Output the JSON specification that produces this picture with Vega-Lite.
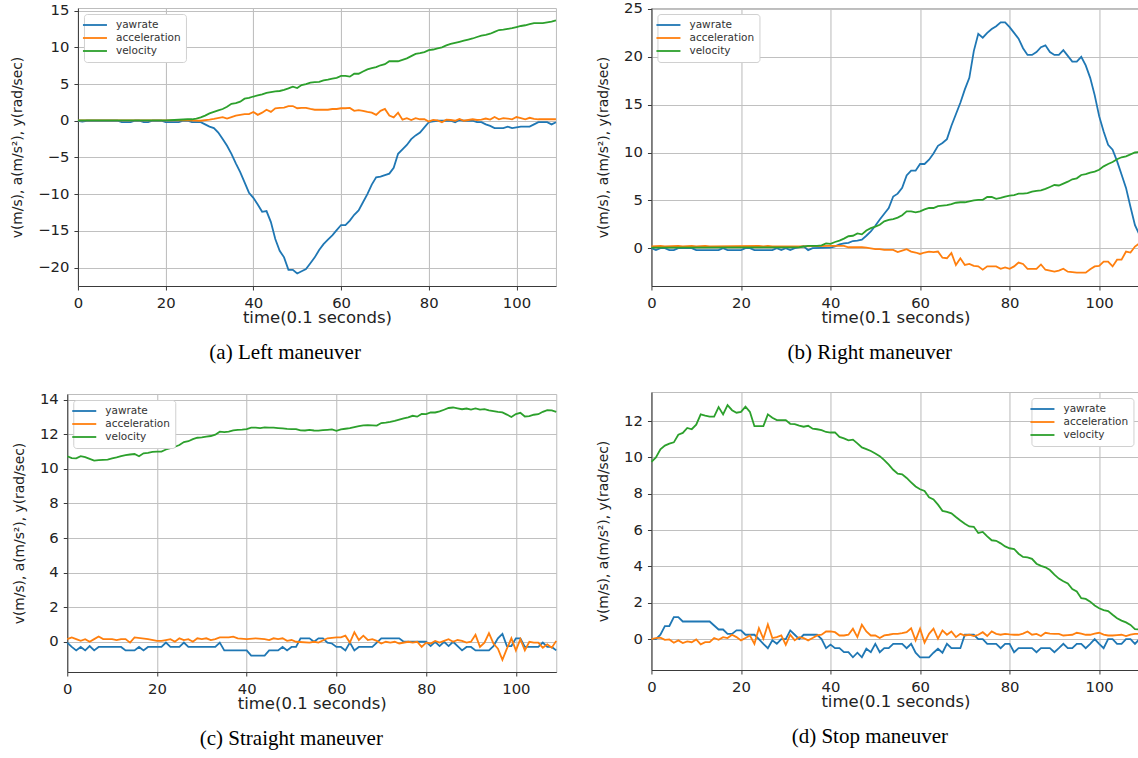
{
"$schema": "https://vega.github.io/schema/vega-lite/v6.json",
"background": "white",
"padding": {"left": 10, "top": 0, "right": 0, "bottom": 0},
"spacing": 25,
"config": {
 "font": "DejaVu Sans",
 "view": {"stroke": "#bdbdbd", "strokeWidth": 1},
 "axis": {"gridColor": "#c0c0c0", "gridWidth": 1.1, "domainColor": "#3a3a3a", "domainWidth": 1, "tickColor": "#3a3a3a", "tickSize": 4, "labelFont": "DejaVu Sans", "labelFontSize": 14.8, "labelColor": "#222", "titleFont": "DejaVu Sans", "titleFontWeight": "normal", "titleColor": "#222", "labelPadding": 5},
 "axisX": {"titleFontSize": 16.5, "titlePadding": 0, "labelFlush": false, "labelOverlap": false},
 "axisY": {"titleFontSize": 13.8, "titlePadding": 13},
 "legend": {"title": null, "offset": 6, "padding": 5, "fillColor": "white", "strokeColor": "#d0d0d0", "cornerRadius": 3, "symbolType": "M-2.4,0H2.4", "symbolSize": 100, "symbolStrokeWidth": 2, "labelFontSize": 10.5, "labelFont": "DejaVu Sans", "labelColor": "#333", "rowPadding": 1, "labelOffset": 15},
 "line": {"strokeWidth": 1.8},
 "title": {"font": "Liberation Serif", "fontSize": 21, "fontWeight": "normal", "color": "#000", "orient": "bottom", "anchor": "middle", "frame": "bounds", "offset": 16}
},
"resolve": {"scale": {"color": "independent"}, "legend": {"color": "independent"}},
"hconcat": [
 {"spacing": 27, "center": true, "resolve": {"scale": {"color": "independent"}, "legend": {"color": "independent"}},
  "vconcat": [
  {"width": 478, "height": 278, "title": "(a) Left maneuver",
   "encoding": {
    "x": {"field": "t", "type": "quantitative", "scale": {"domain": [0, 109], "nice": false, "zero": false}, "axis": {"values": [0, 20, 40, 60, 80, 100], "title": "time(0.1 seconds)"}},
    "y": {"field": "v", "type": "quantitative", "scale": {"domain": [-22.5, 15.35], "nice": false, "zero": false}, "axis": {"values": [-20, -15, -10, -5, 0, 5, 10, 15], "title": "v(m/s), a(m/s²), y(rad/sec)"}}
   },
   "layer": [
    {"data": {"name": "a_y"}, "mark": "line", "encoding": {"color": {"datum": "yawrate", "type": "nominal", "scale": {"domain": ["yawrate", "acceleration", "velocity"], "range": ["#1f77b4", "#ff7f0e", "#2ca02c"]}, "legend": {"orient": "top-left"}}}},
    {"data": {"name": "a_a"}, "mark": "line", "encoding": {"color": {"datum": "acceleration", "type": "nominal", "scale": {"domain": ["yawrate", "acceleration", "velocity"], "range": ["#1f77b4", "#ff7f0e", "#2ca02c"]}, "legend": {"orient": "top-left"}}}},
    {"data": {"name": "a_v"}, "mark": "line", "encoding": {"color": {"datum": "velocity", "type": "nominal", "scale": {"domain": ["yawrate", "acceleration", "velocity"], "range": ["#1f77b4", "#ff7f0e", "#2ca02c"]}, "legend": {"orient": "top-left"}}}}
   ]},
  {"width": 489, "height": 278, "title": "(c) Straight maneuver",
   "resolve": {"axis": {"y": "independent"}},
   "layer": [
    {"encoding": {
      "x": {"field": "t", "type": "quantitative", "scale": {"domain": [0, 109], "nice": false, "zero": false}, "axis": {"values": [0, 20, 40, 60, 80, 100], "title": "time(0.1 seconds)"}},
      "y": {"field": "v", "type": "quantitative", "scale": {"domain": [-1.75, 14.33], "nice": false, "zero": false}, "axis": {"values": [0, 2, 4, 6, 8, 10, 12, 14], "title": "v(m/s), a(m/s²), y(rad/sec)"}}
     },
     "layer": [
      {"data": {"name": "c_y"}, "mark": "line", "encoding": {"color": {"datum": "yawrate", "type": "nominal", "scale": {"domain": ["yawrate", "acceleration", "velocity"], "range": ["#1f77b4", "#ff7f0e", "#2ca02c"]}, "legend": {"orient": "top-left"}}}},
      {"data": {"name": "c_a"}, "mark": "line", "encoding": {"color": {"datum": "acceleration", "type": "nominal", "scale": {"domain": ["yawrate", "acceleration", "velocity"], "range": ["#1f77b4", "#ff7f0e", "#2ca02c"]}, "legend": {"orient": "top-left"}}}},
      {"data": {"name": "c_v"}, "mark": "line", "encoding": {"color": {"datum": "velocity", "type": "nominal", "scale": {"domain": ["yawrate", "acceleration", "velocity"], "range": ["#1f77b4", "#ff7f0e", "#2ca02c"]}, "legend": {"orient": "top-left"}}}}
     ]},
    {"data": {"name": "c_v"}, "mark": {"type": "line", "opacity": 0},
     "encoding": {
      "x": {"field": "t", "type": "quantitative", "scale": {"domain": [0, 109], "nice": false, "zero": false}},
      "y": {"field": "v", "type": "quantitative", "scale": {"domain": [-1.75, 14.33], "nice": false, "zero": false}, "axis": {"orient": "right", "labels": false, "ticks": false, "domain": false, "grid": false, "title": ".", "titleOpacity": 0, "titleFontSize": 6, "titlePadding": 8}}
     }}
   ]}
 ]},
 {"spacing": 27, "center": true, "resolve": {"scale": {"color": "independent"}, "legend": {"color": "independent"}},
  "vconcat": [
  {"width": 488, "height": 278, "title": "(b) Right maneuver",
   "encoding": {
    "x": {"field": "t", "type": "quantitative", "scale": {"domain": [0, 109], "nice": false, "zero": false}, "axis": {"values": [0, 20, 40, 60, 80, 100], "title": "time(0.1 seconds)"}},
    "y": {"field": "v", "type": "quantitative", "scale": {"domain": [-3.95, 25.1], "nice": false, "zero": false}, "axis": {"values": [0, 5, 10, 15, 20, 25], "title": "v(m/s), a(m/s²), y(rad/sec)"}}
   },
   "layer": [
    {"data": {"name": "b_y"}, "mark": "line", "encoding": {"color": {"datum": "yawrate", "type": "nominal", "scale": {"domain": ["yawrate", "acceleration", "velocity"], "range": ["#1f77b4", "#ff7f0e", "#2ca02c"]}, "legend": {"orient": "top-left"}}}},
    {"data": {"name": "b_a"}, "mark": "line", "encoding": {"color": {"datum": "acceleration", "type": "nominal", "scale": {"domain": ["yawrate", "acceleration", "velocity"], "range": ["#1f77b4", "#ff7f0e", "#2ca02c"]}, "legend": {"orient": "top-left"}}}},
    {"data": {"name": "b_v"}, "mark": "line", "encoding": {"color": {"datum": "velocity", "type": "nominal", "scale": {"domain": ["yawrate", "acceleration", "velocity"], "range": ["#1f77b4", "#ff7f0e", "#2ca02c"]}, "legend": {"orient": "top-left"}}}}
   ]},
  {"width": 488, "height": 278, "title": "(d) Stop maneuver",
   "encoding": {
    "x": {"field": "t", "type": "quantitative", "scale": {"domain": [0, 109], "nice": false, "zero": false}, "axis": {"values": [0, 20, 40, 60, 80, 100], "title": "time(0.1 seconds)"}},
    "y": {"field": "v", "type": "quantitative", "scale": {"domain": [-1.7, 13.6], "nice": false, "zero": false}, "axis": {"values": [0, 2, 4, 6, 8, 10, 12], "title": "v(m/s), a(m/s²), y(rad/sec)"}}
   },
   "layer": [
    {"data": {"name": "d_y"}, "mark": "line", "encoding": {"color": {"datum": "yawrate", "type": "nominal", "scale": {"domain": ["yawrate", "acceleration", "velocity"], "range": ["#1f77b4", "#ff7f0e", "#2ca02c"]}, "legend": {"orient": "top-right"}}}},
    {"data": {"name": "d_a"}, "mark": "line", "encoding": {"color": {"datum": "acceleration", "type": "nominal", "scale": {"domain": ["yawrate", "acceleration", "velocity"], "range": ["#1f77b4", "#ff7f0e", "#2ca02c"]}, "legend": {"orient": "top-right"}}}},
    {"data": {"name": "d_v"}, "mark": "line", "encoding": {"color": {"datum": "velocity", "type": "nominal", "scale": {"domain": ["yawrate", "acceleration", "velocity"], "range": ["#1f77b4", "#ff7f0e", "#2ca02c"]}, "legend": {"orient": "top-right"}}}}
   ]}
 ]}
],
"datasets": {
"a_y": [{"t":0,"v":0},{"t":1,"v":-0.1},{"t":2,"v":0},{"t":9,"v":0},{"t":10,"v":-0.2},{"t":12,"v":-0.2},{"t":13,"v":0},{"t":14,"v":0},{"t":15,"v":-0.2},{"t":16,"v":-0.2},{"t":17,"v":0},{"t":19,"v":0},{"t":20,"v":-0.2},{"t":23,"v":-0.2},{"t":24,"v":0},{"t":25,"v":0},{"t":26,"v":-0.2},{"t":28,"v":-0.2},{"t":29,"v":-0.5},{"t":30,"v":-0.8},{"t":31,"v":-1.0},{"t":32,"v":-1.6},{"t":33,"v":-2.5},{"t":34,"v":-3.4},{"t":35,"v":-4.5},{"t":36,"v":-5.8},{"t":37,"v":-7.0},{"t":38,"v":-8.4},{"t":39,"v":-9.8},{"t":40,"v":-10.5},{"t":41,"v":-11.4},{"t":42,"v":-12.4},{"t":43,"v":-12.3},{"t":44,"v":-13.8},{"t":45,"v":-16.1},{"t":46,"v":-17.7},{"t":47,"v":-18.6},{"t":48,"v":-20.3},{"t":49,"v":-20.3},{"t":50,"v":-20.8},{"t":51,"v":-20.5},{"t":52,"v":-20.2},{"t":53,"v":-19.4},{"t":54,"v":-18.6},{"t":55,"v":-17.6},{"t":56,"v":-16.8},{"t":57,"v":-16.2},{"t":58,"v":-15.6},{"t":59,"v":-14.9},{"t":60,"v":-14.2},{"t":61,"v":-14.2},{"t":62,"v":-13.6},{"t":63,"v":-12.8},{"t":64,"v":-12.2},{"t":65,"v":-11.1},{"t":66,"v":-10.0},{"t":67,"v":-8.7},{"t":68,"v":-7.7},{"t":69,"v":-7.6},{"t":70,"v":-7.4},{"t":71,"v":-7.2},{"t":72,"v":-6.4},{"t":73,"v":-4.5},{"t":74,"v":-3.9},{"t":75,"v":-3.3},{"t":76,"v":-2.5},{"t":77,"v":-2.0},{"t":78,"v":-1.6},{"t":79,"v":-0.9},{"t":80,"v":-0.2},{"t":81,"v":-0.1},{"t":82,"v":0},{"t":85,"v":0},{"t":86,"v":-0.2},{"t":87,"v":0.1},{"t":88,"v":0},{"t":90,"v":0},{"t":91,"v":-0.2},{"t":92,"v":-0.2},{"t":93,"v":-0.5},{"t":94,"v":-0.7},{"t":95,"v":-1.0},{"t":97,"v":-1.0},{"t":98,"v":-0.8},{"t":99,"v":-1.0},{"t":100,"v":-0.9},{"t":101,"v":-0.8},{"t":103,"v":-0.8},{"t":104,"v":-0.5},{"t":105,"v":-0.2},{"t":107,"v":-0.2},{"t":108,"v":-0.5},{"t":109,"v":-0.2}],
"a_a": [{"t":0,"v":0.05},{"t":10,"v":0.05},{"t":20,"v":0.05},{"t":25,"v":0.05},{"t":28,"v":0},{"t":30,"v":0.15},{"t":31,"v":0.25},{"t":33,"v":0.5},{"t":34,"v":0.3},{"t":35,"v":0.5},{"t":36,"v":0.7},{"t":37,"v":0.8},{"t":38,"v":0.9},{"t":39,"v":0.9},{"t":40,"v":1.2},{"t":41,"v":0.8},{"t":42,"v":1.1},{"t":43,"v":1.5},{"t":44,"v":1.2},{"t":45,"v":1.7},{"t":46,"v":1.75},{"t":47,"v":1.8},{"t":48,"v":2.0},{"t":49,"v":2.0},{"t":50,"v":1.7},{"t":51,"v":1.75},{"t":52,"v":1.75},{"t":53,"v":1.6},{"t":54,"v":1.5},{"t":55,"v":1.5},{"t":57,"v":1.5},{"t":58,"v":1.6},{"t":59,"v":1.6},{"t":60,"v":1.7},{"t":61,"v":1.7},{"t":62,"v":1.75},{"t":63,"v":1.35},{"t":64,"v":1.45},{"t":65,"v":1.35},{"t":66,"v":1.2},{"t":67,"v":1.1},{"t":68,"v":0.8},{"t":69,"v":1.35},{"t":70,"v":1.6},{"t":71,"v":0.7},{"t":72,"v":0.45},{"t":73,"v":1.1},{"t":74,"v":0.15},{"t":75,"v":0.35},{"t":76,"v":0.1},{"t":77,"v":0.35},{"t":78,"v":0.2},{"t":79,"v":0.2},{"t":80,"v":-0.1},{"t":81,"v":0.1},{"t":82,"v":0.05},{"t":83,"v":-0.2},{"t":84,"v":0.15},{"t":85,"v":0.1},{"t":86,"v":0},{"t":87,"v":0.25},{"t":88,"v":0},{"t":89,"v":0.1},{"t":90,"v":0.2},{"t":91,"v":0.1},{"t":92,"v":0.15},{"t":93,"v":0.3},{"t":94,"v":0.15},{"t":95,"v":0.5},{"t":96,"v":0.2},{"t":97,"v":0.35},{"t":98,"v":0.3},{"t":99,"v":0.2},{"t":100,"v":0.5},{"t":101,"v":0.35},{"t":102,"v":0.2},{"t":103,"v":0.4},{"t":104,"v":0.25},{"t":105,"v":0.2},{"t":109,"v":0.2}],
"a_v": [{"t":0,"v":0.05},{"t":20,"v":0.05},{"t":22,"v":0.1},{"t":25,"v":0.2},{"t":26,"v":0.2},{"t":27,"v":0.3},{"t":28,"v":0.45},{"t":29,"v":0.7},{"t":30,"v":1.0},{"t":31,"v":1.2},{"t":32,"v":1.4},{"t":33,"v":1.6},{"t":34,"v":1.9},{"t":35,"v":2.3},{"t":36,"v":2.4},{"t":37,"v":2.6},{"t":38,"v":3.0},{"t":39,"v":3.1},{"t":40,"v":3.3},{"t":41,"v":3.45},{"t":42,"v":3.6},{"t":43,"v":3.8},{"t":44,"v":3.9},{"t":45,"v":4.0},{"t":46,"v":4.05},{"t":47,"v":4.2},{"t":48,"v":4.4},{"t":49,"v":4.65},{"t":50,"v":4.45},{"t":51,"v":4.85},{"t":52,"v":5.0},{"t":53,"v":5.2},{"t":54,"v":5.25},{"t":55,"v":5.3},{"t":56,"v":5.5},{"t":57,"v":5.6},{"t":58,"v":5.75},{"t":59,"v":5.85},{"t":60,"v":6.1},{"t":61,"v":6.1},{"t":62,"v":6.0},{"t":63,"v":6.4},{"t":64,"v":6.4},{"t":65,"v":6.7},{"t":66,"v":7.0},{"t":67,"v":7.15},{"t":68,"v":7.3},{"t":69,"v":7.55},{"t":70,"v":7.7},{"t":71,"v":8.1},{"t":72,"v":8.1},{"t":73,"v":8.1},{"t":74,"v":8.3},{"t":75,"v":8.5},{"t":76,"v":8.8},{"t":77,"v":9.1},{"t":78,"v":9.2},{"t":79,"v":9.35},{"t":80,"v":9.6},{"t":81,"v":9.7},{"t":82,"v":9.85},{"t":83,"v":10.0},{"t":84,"v":10.25},{"t":85,"v":10.45},{"t":86,"v":10.6},{"t":87,"v":10.75},{"t":88,"v":10.9},{"t":89,"v":11.05},{"t":90,"v":11.2},{"t":91,"v":11.4},{"t":92,"v":11.6},{"t":93,"v":11.7},{"t":94,"v":11.85},{"t":95,"v":12.1},{"t":96,"v":12.35},{"t":97,"v":12.4},{"t":98,"v":12.5},{"t":99,"v":12.6},{"t":100,"v":12.75},{"t":101,"v":12.9},{"t":102,"v":13.0},{"t":103,"v":13.15},{"t":104,"v":13.3},{"t":105,"v":13.3},{"t":106,"v":13.3},{"t":107,"v":13.4},{"t":108,"v":13.5},{"t":109,"v":13.65}],
"b_y": [{"t":0,"v":0},{"t":1,"v":-0.2},{"t":2,"v":0},{"t":3,"v":0},{"t":4,"v":-0.2},{"t":5,"v":-0.2},{"t":6,"v":0},{"t":9,"v":0},{"t":10,"v":-0.2},{"t":15,"v":-0.2},{"t":16,"v":0},{"t":17,"v":-0.2},{"t":20,"v":-0.2},{"t":21,"v":0},{"t":22,"v":0},{"t":23,"v":-0.2},{"t":27,"v":-0.2},{"t":28,"v":0},{"t":29,"v":-0.2},{"t":30,"v":0},{"t":31,"v":-0.2},{"t":32,"v":0},{"t":33,"v":0.1},{"t":34,"v":0.2},{"t":35,"v":-0.2},{"t":36,"v":0},{"t":40,"v":0.05},{"t":41,"v":0.2},{"t":42,"v":0.4},{"t":43,"v":0.5},{"t":44,"v":0.55},{"t":45,"v":0.75},{"t":46,"v":0.8},{"t":47,"v":0.9},{"t":48,"v":1.3},{"t":49,"v":1.75},{"t":50,"v":2.35},{"t":51,"v":3.0},{"t":52,"v":3.6},{"t":53,"v":4.2},{"t":54,"v":5.4},{"t":55,"v":5.7},{"t":56,"v":6.3},{"t":57,"v":7.6},{"t":58,"v":8.1},{"t":59,"v":8.1},{"t":60,"v":8.8},{"t":61,"v":8.8},{"t":62,"v":9.25},{"t":63,"v":9.9},{"t":64,"v":10.7},{"t":65,"v":11.0},{"t":66,"v":11.4},{"t":67,"v":12.8},{"t":68,"v":14.0},{"t":69,"v":15.2},{"t":70,"v":16.6},{"t":71,"v":17.8},{"t":72,"v":20.6},{"t":73,"v":22.4},{"t":74,"v":22.0},{"t":75,"v":22.5},{"t":76,"v":22.9},{"t":77,"v":23.2},{"t":78,"v":23.6},{"t":79,"v":23.6},{"t":80,"v":23.1},{"t":81,"v":22.5},{"t":82,"v":21.9},{"t":83,"v":20.9},{"t":84,"v":20.2},{"t":85,"v":20.2},{"t":86,"v":20.5},{"t":87,"v":21.0},{"t":88,"v":21.2},{"t":89,"v":20.5},{"t":90,"v":20.2},{"t":91,"v":20.2},{"t":92,"v":20.7},{"t":93,"v":20.1},{"t":94,"v":19.5},{"t":95,"v":19.5},{"t":96,"v":20.0},{"t":97,"v":19.1},{"t":98,"v":17.8},{"t":99,"v":16.0},{"t":100,"v":13.8},{"t":101,"v":12.2},{"t":102,"v":10.8},{"t":103,"v":10.3},{"t":104,"v":9.1},{"t":105,"v":7.7},{"t":106,"v":6.3},{"t":107,"v":4.3},{"t":108,"v":2.4},{"t":109,"v":1.4}],
"b_a": [{"t":0,"v":0.2},{"t":2,"v":0.25},{"t":3,"v":0.2},{"t":6,"v":0.25},{"t":7,"v":0.2},{"t":9,"v":0.25},{"t":10,"v":0.2},{"t":12,"v":0.25},{"t":13,"v":0.2},{"t":24,"v":0.25},{"t":25,"v":0.2},{"t":26,"v":0.25},{"t":27,"v":0.2},{"t":33,"v":0.2},{"t":40,"v":0.25},{"t":43,"v":0.25},{"t":44,"v":0.1},{"t":47,"v":0.1},{"t":48,"v":0.07},{"t":50,"v":-0.1},{"t":51,"v":-0.1},{"t":52,"v":-0.17},{"t":54,"v":-0.17},{"t":55,"v":-0.4},{"t":56,"v":-0.25},{"t":57,"v":-0.1},{"t":58,"v":-0.35},{"t":59,"v":-0.45},{"t":60,"v":-0.6},{"t":61,"v":-0.45},{"t":62,"v":-0.35},{"t":63,"v":-0.4},{"t":64,"v":-0.35},{"t":65,"v":-1.0},{"t":66,"v":-1.05},{"t":67,"v":-0.5},{"t":68,"v":-1.75},{"t":69,"v":-1.05},{"t":70,"v":-1.75},{"t":71,"v":-1.65},{"t":72,"v":-1.85},{"t":73,"v":-1.9},{"t":74,"v":-2.25},{"t":75,"v":-1.9},{"t":77,"v":-1.9},{"t":78,"v":-2.15},{"t":79,"v":-2.0},{"t":80,"v":-2.15},{"t":81,"v":-1.9},{"t":82,"v":-1.5},{"t":83,"v":-1.65},{"t":84,"v":-2.15},{"t":86,"v":-2.15},{"t":87,"v":-1.7},{"t":88,"v":-2.25},{"t":89,"v":-2.35},{"t":90,"v":-2.45},{"t":91,"v":-2.35},{"t":92,"v":-2.15},{"t":93,"v":-2.45},{"t":94,"v":-2.5},{"t":95,"v":-2.55},{"t":97,"v":-2.55},{"t":98,"v":-2.2},{"t":99,"v":-1.9},{"t":100,"v":-1.85},{"t":101,"v":-1.4},{"t":102,"v":-1.4},{"t":103,"v":-1.9},{"t":104,"v":-1.2},{"t":105,"v":-1.2},{"t":106,"v":-0.35},{"t":107,"v":-0.45},{"t":108,"v":0.17},{"t":109,"v":0.5}],
"b_v": [{"t":0,"v":0.05},{"t":33,"v":0.1},{"t":35,"v":0.25},{"t":37,"v":0.25},{"t":38,"v":0.3},{"t":39,"v":0.5},{"t":40,"v":0.45},{"t":41,"v":0.65},{"t":42,"v":0.8},{"t":43,"v":1.0},{"t":44,"v":1.25},{"t":45,"v":1.3},{"t":46,"v":1.55},{"t":47,"v":1.45},{"t":48,"v":1.85},{"t":49,"v":2.1},{"t":50,"v":2.25},{"t":51,"v":2.45},{"t":52,"v":2.8},{"t":53,"v":2.95},{"t":54,"v":3.05},{"t":55,"v":3.2},{"t":56,"v":3.45},{"t":57,"v":3.85},{"t":58,"v":3.85},{"t":59,"v":3.75},{"t":60,"v":3.85},{"t":61,"v":4.05},{"t":62,"v":4.2},{"t":63,"v":4.2},{"t":64,"v":4.4},{"t":65,"v":4.45},{"t":66,"v":4.5},{"t":67,"v":4.6},{"t":68,"v":4.75},{"t":69,"v":4.8},{"t":70,"v":4.8},{"t":71,"v":4.9},{"t":72,"v":5.0},{"t":73,"v":5.05},{"t":74,"v":5.05},{"t":75,"v":5.35},{"t":76,"v":5.35},{"t":77,"v":5.15},{"t":78,"v":5.25},{"t":79,"v":5.4},{"t":80,"v":5.5},{"t":81,"v":5.55},{"t":82,"v":5.7},{"t":83,"v":5.7},{"t":84,"v":5.75},{"t":85,"v":5.9},{"t":86,"v":6.0},{"t":87,"v":6.05},{"t":88,"v":6.2},{"t":89,"v":6.4},{"t":90,"v":6.6},{"t":91,"v":6.55},{"t":92,"v":6.75},{"t":93,"v":6.95},{"t":94,"v":7.2},{"t":95,"v":7.3},{"t":96,"v":7.65},{"t":97,"v":7.75},{"t":98,"v":7.9},{"t":99,"v":8.0},{"t":100,"v":8.2},{"t":101,"v":8.55},{"t":102,"v":8.8},{"t":103,"v":9.0},{"t":104,"v":9.3},{"t":105,"v":9.5},{"t":106,"v":9.6},{"t":107,"v":9.8},{"t":108,"v":10.0},{"t":109,"v":10.05}],
"c_y": [{"t":0,"v":-0.05},{"t":1,"v":-0.3},{"t":2,"v":-0.5},{"t":3,"v":-0.3},{"t":4,"v":-0.5},{"t":5,"v":-0.25},{"t":6,"v":-0.5},{"t":7,"v":-0.3},{"t":12,"v":-0.3},{"t":13,"v":-0.5},{"t":15,"v":-0.5},{"t":16,"v":-0.3},{"t":17,"v":-0.5},{"t":18,"v":-0.3},{"t":21,"v":-0.3},{"t":22,"v":-0.05},{"t":23,"v":-0.3},{"t":25,"v":-0.3},{"t":26,"v":-0.05},{"t":27,"v":-0.3},{"t":33,"v":-0.3},{"t":34,"v":-0.05},{"t":35,"v":-0.5},{"t":40,"v":-0.5},{"t":41,"v":-0.8},{"t":44,"v":-0.8},{"t":45,"v":-0.5},{"t":47,"v":-0.5},{"t":48,"v":-0.3},{"t":49,"v":-0.5},{"t":50,"v":-0.3},{"t":51,"v":-0.3},{"t":52,"v":0.2},{"t":54,"v":0.2},{"t":55,"v":0},{"t":56,"v":0.2},{"t":57,"v":0.2},{"t":58,"v":-0.05},{"t":59,"v":-0.1},{"t":60,"v":-0.3},{"t":61,"v":-0.3},{"t":62,"v":-0.5},{"t":63,"v":-0.05},{"t":64,"v":-0.5},{"t":65,"v":-0.3},{"t":68,"v":-0.3},{"t":70,"v":0.2},{"t":74,"v":0.2},{"t":75,"v":0},{"t":80,"v":0},{"t":81,"v":-0.25},{"t":82,"v":0},{"t":83,"v":-0.25},{"t":84,"v":0},{"t":85,"v":-0.25},{"t":86,"v":0},{"t":88,"v":-0.5},{"t":89,"v":-0.3},{"t":90,"v":-0.3},{"t":91,"v":-0.5},{"t":94,"v":-0.5},{"t":95,"v":-0.25},{"t":96,"v":0.2},{"t":97,"v":0.45},{"t":98,"v":-0.25},{"t":99,"v":-0.25},{"t":100,"v":0.2},{"t":101,"v":0.2},{"t":102,"v":-0.3},{"t":105,"v":-0.3},{"t":106,"v":-0.05},{"t":107,"v":-0.3},{"t":108,"v":-0.3},{"t":109,"v":-0.5}],
"c_a": [{"t":0,"v":0.15},{"t":1,"v":0.25},{"t":2,"v":0.15},{"t":3,"v":0.05},{"t":4,"v":0.15},{"t":5,"v":0},{"t":6,"v":0.15},{"t":7,"v":0.3},{"t":8,"v":0.15},{"t":10,"v":0.15},{"t":11,"v":0.1},{"t":12,"v":0.15},{"t":13,"v":0.15},{"t":14,"v":-0.05},{"t":15,"v":0.25},{"t":18,"v":0.15},{"t":20,"v":0.05},{"t":21,"v":0.05},{"t":22,"v":0.1},{"t":23,"v":0.15},{"t":24,"v":0},{"t":25,"v":0.2},{"t":26,"v":0.1},{"t":27,"v":0.15},{"t":28,"v":0},{"t":29,"v":0.2},{"t":30,"v":0.15},{"t":31,"v":0.2},{"t":32,"v":0.1},{"t":33,"v":0.15},{"t":34,"v":0.25},{"t":36,"v":0.25},{"t":37,"v":0.3},{"t":38,"v":0.2},{"t":40,"v":0.15},{"t":42,"v":0.2},{"t":44,"v":0.15},{"t":45,"v":0.1},{"t":46,"v":0.2},{"t":47,"v":0.15},{"t":48,"v":0.2},{"t":49,"v":0.05},{"t":50,"v":0.1},{"t":51,"v":0},{"t":54,"v":-0.05},{"t":55,"v":0},{"t":56,"v":-0.05},{"t":58,"v":0.2},{"t":60,"v":0.25},{"t":61,"v":0.25},{"t":62,"v":0.35},{"t":63,"v":-0.05},{"t":64,"v":0.55},{"t":65,"v":0.1},{"t":66,"v":0.35},{"t":67,"v":0.1},{"t":68,"v":0.15},{"t":69,"v":0.05},{"t":70,"v":-0.1},{"t":71,"v":0},{"t":72,"v":-0.05},{"t":73,"v":0},{"t":74,"v":-0.1},{"t":76,"v":0},{"t":77,"v":-0.05},{"t":78,"v":0},{"t":79,"v":-0.3},{"t":80,"v":-0.05},{"t":81,"v":-0.1},{"t":82,"v":0.05},{"t":83,"v":-0.05},{"t":84,"v":0.05},{"t":85,"v":0.15},{"t":86,"v":0},{"t":87,"v":0.1},{"t":88,"v":0.05},{"t":89,"v":-0.05},{"t":90,"v":0},{"t":91,"v":0.4},{"t":92,"v":-0.3},{"t":93,"v":-0.05},{"t":94,"v":0.5},{"t":95,"v":-0.1},{"t":96,"v":-0.4},{"t":97,"v":-1.05},{"t":98,"v":-0.4},{"t":99,"v":0.2},{"t":100,"v":-0.5},{"t":101,"v":0.15},{"t":102,"v":-0.5},{"t":103,"v":0},{"t":104,"v":-0.05},{"t":105,"v":-0.05},{"t":106,"v":-0.35},{"t":107,"v":-0.15},{"t":108,"v":-0.35},{"t":109,"v":0.05}],
"c_v": [{"t":0,"v":10.73},{"t":1,"v":10.62},{"t":2,"v":10.61},{"t":3,"v":10.73},{"t":4,"v":10.68},{"t":5,"v":10.58},{"t":6,"v":10.48},{"t":7,"v":10.5},{"t":8,"v":10.52},{"t":9,"v":10.54},{"t":10,"v":10.6},{"t":11,"v":10.66},{"t":12,"v":10.73},{"t":13,"v":10.79},{"t":14,"v":10.83},{"t":15,"v":10.86},{"t":16,"v":10.73},{"t":17,"v":10.9},{"t":18,"v":10.93},{"t":19,"v":10.98},{"t":20,"v":11.0},{"t":21,"v":11.0},{"t":22,"v":11.12},{"t":23,"v":11.2},{"t":24,"v":11.28},{"t":25,"v":11.38},{"t":26,"v":11.55},{"t":27,"v":11.6},{"t":28,"v":11.72},{"t":29,"v":11.8},{"t":30,"v":11.82},{"t":31,"v":11.86},{"t":32,"v":11.9},{"t":33,"v":11.98},{"t":34,"v":12.15},{"t":35,"v":12.12},{"t":36,"v":12.15},{"t":37,"v":12.23},{"t":38,"v":12.25},{"t":39,"v":12.27},{"t":40,"v":12.3},{"t":41,"v":12.38},{"t":42,"v":12.38},{"t":43,"v":12.36},{"t":44,"v":12.4},{"t":45,"v":12.39},{"t":46,"v":12.38},{"t":47,"v":12.36},{"t":48,"v":12.34},{"t":49,"v":12.31},{"t":50,"v":12.3},{"t":51,"v":12.3},{"t":52,"v":12.23},{"t":53,"v":12.22},{"t":54,"v":12.25},{"t":55,"v":12.22},{"t":56,"v":12.21},{"t":57,"v":12.24},{"t":58,"v":12.26},{"t":59,"v":12.28},{"t":60,"v":12.2},{"t":61,"v":12.28},{"t":62,"v":12.32},{"t":63,"v":12.36},{"t":64,"v":12.42},{"t":65,"v":12.47},{"t":66,"v":12.51},{"t":67,"v":12.53},{"t":68,"v":12.52},{"t":69,"v":12.5},{"t":70,"v":12.65},{"t":71,"v":12.68},{"t":72,"v":12.72},{"t":73,"v":12.78},{"t":74,"v":12.85},{"t":75,"v":12.92},{"t":76,"v":12.98},{"t":77,"v":13.07},{"t":78,"v":13.02},{"t":79,"v":13.18},{"t":80,"v":13.17},{"t":81,"v":13.26},{"t":82,"v":13.26},{"t":83,"v":13.32},{"t":84,"v":13.42},{"t":85,"v":13.52},{"t":86,"v":13.55},{"t":87,"v":13.5},{"t":88,"v":13.45},{"t":89,"v":13.49},{"t":90,"v":13.43},{"t":91,"v":13.5},{"t":92,"v":13.43},{"t":93,"v":13.45},{"t":94,"v":13.38},{"t":95,"v":13.34},{"t":96,"v":13.3},{"t":97,"v":13.27},{"t":98,"v":13.14},{"t":99,"v":13.0},{"t":100,"v":13.17},{"t":101,"v":13.24},{"t":102,"v":13.03},{"t":103,"v":13.05},{"t":104,"v":13.13},{"t":105,"v":13.16},{"t":106,"v":13.3},{"t":107,"v":13.4},{"t":108,"v":13.38},{"t":109,"v":13.3}],
"d_y": [{"t":0,"v":0},{"t":1,"v":0},{"t":2,"v":0.24},{"t":3,"v":0.72},{"t":4,"v":0.72},{"t":5,"v":1.21},{"t":6,"v":1.21},{"t":7,"v":0.97},{"t":13,"v":0.97},{"t":14,"v":0.75},{"t":15,"v":0.53},{"t":16,"v":0.53},{"t":17,"v":0.29},{"t":18,"v":0.29},{"t":19,"v":0.48},{"t":20,"v":0.48},{"t":21,"v":0.24},{"t":23,"v":0.24},{"t":24,"v":0},{"t":25,"v":-0.26},{"t":26,"v":-0.5},{"t":27,"v":-0.07},{"t":28,"v":-0.26},{"t":29,"v":0},{"t":30,"v":0},{"t":31,"v":0.48},{"t":32,"v":0.24},{"t":33,"v":0},{"t":34,"v":0.24},{"t":37,"v":0.24},{"t":38,"v":0},{"t":39,"v":-0.5},{"t":40,"v":-0.3},{"t":41,"v":-0.5},{"t":42,"v":-0.5},{"t":43,"v":-0.72},{"t":44,"v":-0.72},{"t":45,"v":-1.0},{"t":46,"v":-0.75},{"t":47,"v":-1.0},{"t":48,"v":-0.53},{"t":49,"v":-0.72},{"t":50,"v":-0.26},{"t":51,"v":-0.72},{"t":52,"v":-0.5},{"t":53,"v":-0.5},{"t":54,"v":-0.26},{"t":56,"v":-0.26},{"t":57,"v":-0.5},{"t":58,"v":-0.26},{"t":59,"v":-0.75},{"t":60,"v":-1.0},{"t":62,"v":-1.0},{"t":63,"v":-0.75},{"t":64,"v":-0.53},{"t":65,"v":-0.75},{"t":66,"v":-0.26},{"t":67,"v":-0.5},{"t":69,"v":-0.5},{"t":70,"v":0.24},{"t":72,"v":0.24},{"t":73,"v":0},{"t":74,"v":0},{"t":75,"v":-0.26},{"t":77,"v":-0.26},{"t":78,"v":-0.5},{"t":79,"v":-0.26},{"t":80,"v":-0.26},{"t":81,"v":-0.72},{"t":82,"v":-0.5},{"t":85,"v":-0.5},{"t":86,"v":-0.72},{"t":87,"v":-0.5},{"t":89,"v":-0.5},{"t":90,"v":-0.72},{"t":91,"v":-0.5},{"t":92,"v":-0.26},{"t":93,"v":-0.5},{"t":94,"v":-0.5},{"t":95,"v":-0.26},{"t":96,"v":-0.26},{"t":97,"v":-0.5},{"t":98,"v":-0.26},{"t":99,"v":0},{"t":100,"v":-0.26},{"t":101,"v":-0.5},{"t":102,"v":0},{"t":103,"v":0},{"t":104,"v":-0.26},{"t":105,"v":-0.26},{"t":106,"v":0},{"t":107,"v":0},{"t":108,"v":-0.26},{"t":109,"v":0}],
"d_a": [{"t":0,"v":0},{"t":1,"v":0.05},{"t":2,"v":0.08},{"t":3,"v":-0.04},{"t":4,"v":-0.02},{"t":5,"v":-0.2},{"t":6,"v":-0.07},{"t":7,"v":-0.22},{"t":8,"v":-0.13},{"t":9,"v":-0.17},{"t":10,"v":-0.02},{"t":11,"v":-0.29},{"t":12,"v":-0.17},{"t":13,"v":-0.17},{"t":14,"v":0.06},{"t":15,"v":-0.04},{"t":16,"v":0.11},{"t":17,"v":0.06},{"t":18,"v":0.24},{"t":19,"v":0.11},{"t":20,"v":-0.07},{"t":21,"v":0.06},{"t":22,"v":0.2},{"t":23,"v":-0.26},{"t":24,"v":0.6},{"t":25,"v":0.02},{"t":26,"v":0.81},{"t":27,"v":0.06},{"t":28,"v":0.11},{"t":29,"v":0.2},{"t":30,"v":-0.31},{"t":31,"v":0.24},{"t":32,"v":-0.07},{"t":33,"v":0.11},{"t":34,"v":0.06},{"t":35,"v":-0.07},{"t":36,"v":0.06},{"t":37,"v":0.2},{"t":38,"v":0.24},{"t":39,"v":0.42},{"t":40,"v":0.42},{"t":41,"v":0.38},{"t":42,"v":0.2},{"t":43,"v":0.2},{"t":44,"v":0.24},{"t":45,"v":0.57},{"t":46,"v":0.11},{"t":47,"v":0.79},{"t":48,"v":0.42},{"t":49,"v":0.2},{"t":50,"v":0.2},{"t":51,"v":0.06},{"t":52,"v":0.2},{"t":53,"v":0.24},{"t":54,"v":0.29},{"t":55,"v":0.29},{"t":56,"v":0.33},{"t":57,"v":0.38},{"t":58,"v":0.6},{"t":59,"v":-0.07},{"t":60,"v":0.57},{"t":61,"v":-0.2},{"t":62,"v":0.29},{"t":63,"v":0.57},{"t":64,"v":0.02},{"t":65,"v":0.48},{"t":66,"v":0.24},{"t":67,"v":0.42},{"t":68,"v":0.11},{"t":69,"v":0.29},{"t":70,"v":0.2},{"t":71,"v":0.24},{"t":72,"v":0.17},{"t":73,"v":0.24},{"t":74,"v":0.38},{"t":75,"v":0.17},{"t":76,"v":0.42},{"t":77,"v":0.29},{"t":78,"v":0.24},{"t":79,"v":0.29},{"t":80,"v":0.26},{"t":81,"v":0.24},{"t":82,"v":0.24},{"t":83,"v":0.3},{"t":84,"v":0.42},{"t":85,"v":0.24},{"t":86,"v":0.29},{"t":87,"v":0.17},{"t":88,"v":0.35},{"t":89,"v":0.3},{"t":90,"v":0.29},{"t":91,"v":0.29},{"t":92,"v":0.2},{"t":93,"v":0.22},{"t":94,"v":0.24},{"t":95,"v":0.35},{"t":96,"v":0.3},{"t":97,"v":0.24},{"t":98,"v":0.24},{"t":99,"v":0.3},{"t":100,"v":0.35},{"t":101,"v":0.25},{"t":102,"v":0.2},{"t":103,"v":0.2},{"t":104,"v":0.22},{"t":105,"v":0.24},{"t":106,"v":0.17},{"t":107,"v":0.25},{"t":108,"v":0.29},{"t":109,"v":0.29}],
"d_v": [{"t":0,"v":9.75},{"t":1,"v":10.0},{"t":2,"v":10.45},{"t":3,"v":10.65},{"t":4,"v":10.76},{"t":5,"v":10.83},{"t":6,"v":11.25},{"t":7,"v":11.35},{"t":8,"v":11.62},{"t":9,"v":11.55},{"t":10,"v":11.8},{"t":11,"v":12.37},{"t":12,"v":12.3},{"t":13,"v":12.24},{"t":14,"v":12.24},{"t":15,"v":12.77},{"t":16,"v":12.37},{"t":17,"v":12.88},{"t":18,"v":12.6},{"t":19,"v":12.46},{"t":20,"v":12.51},{"t":21,"v":12.79},{"t":22,"v":12.5},{"t":23,"v":11.72},{"t":24,"v":11.72},{"t":25,"v":11.72},{"t":26,"v":12.37},{"t":27,"v":12.18},{"t":28,"v":12.05},{"t":29,"v":12.05},{"t":30,"v":12.05},{"t":31,"v":11.85},{"t":32,"v":11.83},{"t":33,"v":11.75},{"t":34,"v":11.69},{"t":35,"v":11.74},{"t":36,"v":11.58},{"t":37,"v":11.55},{"t":38,"v":11.5},{"t":39,"v":11.4},{"t":40,"v":11.37},{"t":41,"v":11.38},{"t":42,"v":11.13},{"t":43,"v":11.05},{"t":44,"v":10.94},{"t":45,"v":10.98},{"t":46,"v":10.77},{"t":47,"v":10.55},{"t":48,"v":10.46},{"t":49,"v":10.35},{"t":50,"v":10.22},{"t":51,"v":10.07},{"t":52,"v":9.85},{"t":53,"v":9.6},{"t":54,"v":9.32},{"t":55,"v":9.1},{"t":56,"v":9.07},{"t":57,"v":8.87},{"t":58,"v":8.63},{"t":59,"v":8.4},{"t":60,"v":8.25},{"t":61,"v":8.15},{"t":62,"v":7.8},{"t":63,"v":7.69},{"t":64,"v":7.4},{"t":65,"v":7.06},{"t":66,"v":7.0},{"t":67,"v":6.92},{"t":68,"v":6.72},{"t":69,"v":6.53},{"t":70,"v":6.35},{"t":71,"v":6.2},{"t":72,"v":6.18},{"t":73,"v":5.84},{"t":74,"v":5.9},{"t":75,"v":5.65},{"t":76,"v":5.44},{"t":77,"v":5.41},{"t":78,"v":5.27},{"t":79,"v":5.1},{"t":80,"v":5.0},{"t":81,"v":4.96},{"t":82,"v":4.7},{"t":83,"v":4.52},{"t":84,"v":4.5},{"t":85,"v":4.42},{"t":86,"v":4.15},{"t":87,"v":4.03},{"t":88,"v":3.95},{"t":89,"v":3.8},{"t":90,"v":3.55},{"t":91,"v":3.33},{"t":92,"v":3.18},{"t":93,"v":3.06},{"t":94,"v":2.76},{"t":95,"v":2.62},{"t":96,"v":2.25},{"t":97,"v":2.21},{"t":98,"v":2.06},{"t":99,"v":1.85},{"t":100,"v":1.7},{"t":101,"v":1.6},{"t":102,"v":1.54},{"t":103,"v":1.34},{"t":104,"v":1.15},{"t":105,"v":1.02},{"t":106,"v":0.92},{"t":107,"v":0.78},{"t":108,"v":0.55},{"t":109,"v":0.53}]
}
}
